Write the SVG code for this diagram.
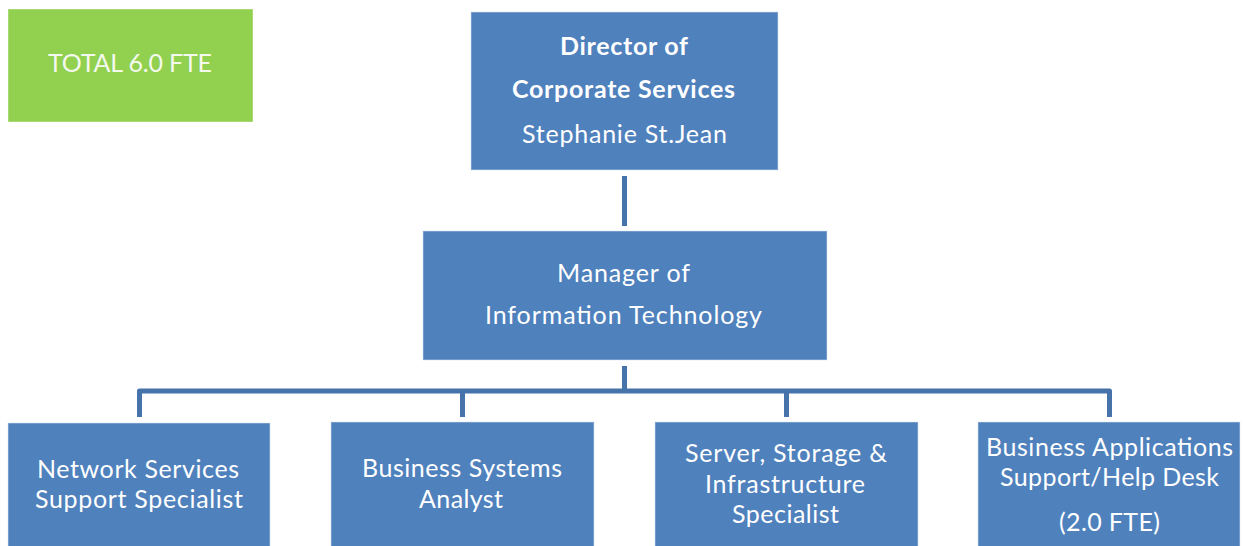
<svg xmlns="http://www.w3.org/2000/svg" width="1244" height="546" viewBox="0 0 1244 546">
  <style>
    .box { fill: #4f81bd; stroke: #dbe5f1; stroke-opacity: 0.55; stroke-width: 1; }
    .green { fill: #92d050; stroke: #ffffff; stroke-opacity: 0.4; stroke-width: 1; }
    .t { font-family: Lato, "Open Sans", "Liberation Sans", sans-serif; font-size: 25px; fill: #ffffff; text-anchor: middle; }
    .b { font-weight: bold; }
    .conn { fill: none; stroke: #4673aa; stroke-width: 5; stroke-linejoin: round; stroke-linecap: butt; }
  </style>
  <rect width="1244" height="546" fill="#ffffff"/>

  <g id="connectors">
    <line class="conn" x1="624.5" y1="176" x2="624.5" y2="226"/>
    <line class="conn" x1="624.5" y1="366" x2="624.5" y2="391"/>
    <path class="conn" d="M139.5,417 V391 H1109.5 V417"/>
    <line class="conn" x1="462.5" y1="391" x2="462.5" y2="417"/>
    <line class="conn" x1="786.5" y1="391" x2="786.5" y2="417"/>
  </g>

  <g id="total">
    <rect class="green" x="8" y="9" width="245" height="113"/>
    <text class="t" x="130" y="72" textLength="164" style="fill:#f4f9ee">TOTAL 6.0 FTE</text>
  </g>

  <g id="director">
    <rect class="box" x="471" y="12" width="307" height="158"/>
    <text class="t b" x="624" y="55" textLength="128">Director of</text>
    <text class="t b" x="623.5" y="98" textLength="223">Corporate Services</text>
    <text class="t" x="624.5" y="143" textLength="205">Stephanie St.Jean</text>
  </g>

  <g id="manager">
    <rect class="box" x="423" y="231" width="404" height="129"/>
    <text class="t" x="623.5" y="282" textLength="133">Manager of</text>
    <text class="t" x="623.5" y="324" textLength="277">Information Technology</text>
  </g>

  <g id="network">
    <rect class="box" x="8" y="423" width="262" height="130"/>
    <text class="t" x="138" y="478" textLength="202">Network Services</text>
    <text class="t" x="139" y="508" textLength="208">Support Specialist</text>
  </g>

  <g id="analyst">
    <rect class="box" x="331" y="422" width="263" height="130"/>
    <text class="t" x="462" y="477" textLength="200">Business Systems</text>
    <text class="t" x="461" y="508" textLength="84">Analyst</text>
  </g>

  <g id="server">
    <rect class="box" x="655" y="422" width="263" height="130"/>
    <text class="t" x="786" y="462" textLength="202">Server, Storage &amp;</text>
    <text class="t" x="785" y="493" textLength="160">Infrastructure</text>
    <text class="t" x="785.5" y="523" textLength="107">Specialist</text>
  </g>

  <g id="helpdesk">
    <rect class="box" x="978" y="422" width="262" height="130"/>
    <text class="t" x="1109.5" y="456" textLength="247">Business Applications</text>
    <text class="t" x="1109.5" y="486" textLength="219">Support/Help Desk</text>
    <text class="t" x="1109.5" y="531" textLength="101">(2.0 FTE)</text>
  </g>
</svg>
